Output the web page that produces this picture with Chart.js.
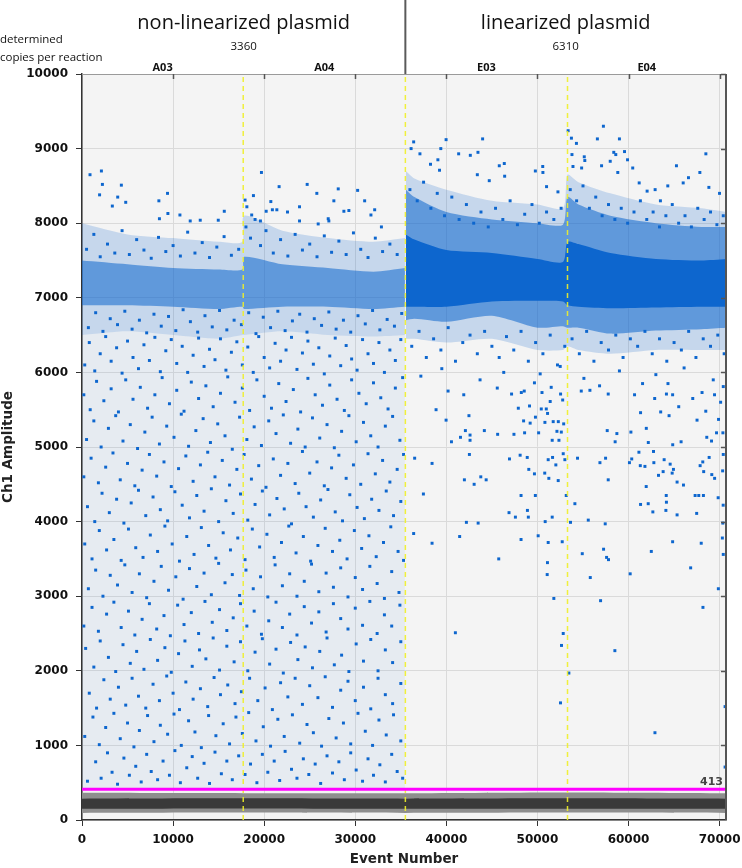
<!DOCTYPE html>
<html>
<head>
<meta charset="utf-8">
<script src="https://cdn.jsdelivr.net/npm/chart.js@4.4.1/dist/chart.umd.min.js"></script>
<style>
  html, body { margin: 0; padding: 0; background: #fff; }
  #wrap { width: 742px; height: 868px; }
</style>
</head>
<body>
<div id="wrap"><canvas id="ddpcr" width="742" height="868"></canvas></div>
<script>
// groups + wells (event ranges)
const groupNames = ["non-linearized plasmid", "linearized plasmid"];
const groupCopies = ["3360", "6310"];
const wellNames = ["A03", "A04", "E03", "E04"];
const wellStarts = [0, 17700, 35500, 53300];
const lastEvent = 70700;
const threshold = 413;
const xTickValues = [0, 10000, 20000, 30000, 40000, 50000, 60000, 70000];
const yTickValues = [0, 1000, 2000, 3000, 4000, 5000, 6000, 7000, 8000, 9000, 10000];

// negative droplet band (grey), envelopes
const negEvents = [0, 17700, 35500, 53300, 70700];
const negOuterLow = [95, 100, 95, 100, 95];
const negOuterHigh = [365, 360, 360, 370, 360];
const negInnerLow = [150, 155, 150, 150, 150];
const negInnerHigh = [285, 290, 285, 290, 285];

// positive cluster of the non-linearized wells
const aEvents = [0, 5000, 10000, 15000, 17600, 17800, 22000, 27000, 32000, 35450];
const aCoreLow = [6900, 6900, 6880, 6850, 6880, 6850, 6880, 6880, 6850, 6880];
const aCoreHigh = [7500, 7450, 7400, 7380, 7380, 7550, 7450, 7400, 7350, 7400];
const aHaloLow = [6500, 6550, 6500, 6450, 6500, 6500, 6550, 6500, 6480, 6500];
const aHaloHigh = [8000, 7850, 7800, 7750, 7750, 8100, 7900, 7800, 7750, 7800];
const aScatterLow = [430, 430, 430, 430, 430, 430, 430, 430, 430, 430];
const aScatterHigh = [6500, 6550, 6500, 6450, 6500, 6500, 6550, 6500, 6480, 6500];

// positive cluster of the linearized wells
const eEvents = [35550, 36500, 40000, 45000, 50000, 52800, 53300, 54500, 58000, 63000, 68000, 70700];
const eCoreLow = [6880, 6880, 6880, 6950, 6960, 6950, 6900, 6880, 6860, 6870, 6880, 6880];
const eCoreHigh = [7850, 7780, 7640, 7600, 7520, 7480, 7750, 7720, 7600, 7520, 7500, 7520];
const eHaloLow = [6700, 6720, 6680, 6760, 6600, 6620, 6600, 6600, 6520, 6560, 6580, 6600];
const eHaloHigh = [8450, 8350, 8150, 8050, 8000, 7980, 8350, 8250, 8100, 8000, 7950, 7950];
const eOuterLow = [6450, 6450, 6400, 6450, 6300, 6300, 6350, 6300, 6250, 6300, 6300, 6300];
const eOuterHigh = [8700, 8600, 8450, 8300, 8250, 8200, 8650, 8550, 8400, 8250, 8200, 8150];

// single droplets [event, amplitude]
const aSparsePts = [
  [600,520],[1500,780],[2100,560],[2800,900],[3300,640],[3900,480],[4600,830],[5200,600],[5900,720],[6500,510],[7100,880],[7600,650],[8300,540],[8900,790],[9600,600],[10200,930],[10800,500],[11500,700],[12100,850],[12700,560],[13400,760],[14000,490],[14600,910],[15300,620],[15900,790],[16500,540],[17200,860],[17900,610],[18500,750],[19200,500],[19800,880],[20400,640],[21100,790],[21700,530],[22300,920],[23000,680],[23600,560],[24300,820],[24900,610],[25600,750],[26200,490],[26900,860],[27500,630],[28200,780],[28800,540],[29500,900],[30100,670],[30800,520],[31400,820],[32000,600],[32700,740],[33300,510],[34000,880],[34600,650],[35200,560],
  [300,1120],[1200,1380],[1900,1010],[2600,1240],[3500,1430],[4200,1090],[5000,1300],[5700,980],[6300,1200],[7200,1400],[7900,1050],[8600,1270],[9400,1150],[10100,1420],[10900,1000],[11700,1330],[12400,1180],[13100,970],[13900,1400],[14700,1130],[15500,1290],[16200,1020],[16900,1380],[17600,1160],[18300,1440],[19100,1060],[19900,1250],[20700,990],[21500,1350],[22200,1120],[23100,1410],[23900,1030],[24700,1280],[25400,1170],[26300,990],[27100,1360],[27900,1100],[28700,1300],[29500,1020],[30300,1430],[31100,1190],[31900,1000],[32600,1340],[33400,1140],[34200,1410],[35000,1060],
  [800,1700],[1600,1500],[2400,1880],[3100,1620],[4000,1780],[4800,1540],[5500,1900],[6200,1660],[7000,1500],[7800,1820],[8500,1600],[9300,1930],[10000,1700],[10700,1480],[11400,1850],[12200,1620],[13000,1760],[13800,1520],[14500,1910],[15200,1680],[16000,1810],[16800,1560],[17500,1720],[18400,1900],[19300,1600],[20100,1770],[20900,1480],[21800,1840],[22600,1650],[23400,1900],[24200,1550],[25000,1800],[25900,1640],[26700,1920],[27500,1510],[28400,1740],[29200,1860],[30000,1600],[30900,1780],[31700,1490],[32500,1900],[33300,1680],[34100,1560],[35000,1830],
  [400,2300],[1300,2050],[2000,2400],[2900,2180],[3700,1990],[4500,2350],[5300,2100],[6000,2260],[6800,2020],[7500,2420],[8300,2140],[9100,2310],[9800,1980],[10600,2230],[11300,2400],[12100,2060],[12900,2280],[13600,2160],[14400,2440],[15100,2010],[15900,2330],[16700,2120],[17400,2390],[18200,2000],[19000,2250],[19800,2430],[20600,2090],[21300,2290],[22100,1970],[22900,2380],[23700,2150],[24500,2320],[25300,2040],[26100,2260],[26900,2440],[27700,2080],[28500,2210],[29300,1990],[30100,2360],[30900,2130],[31700,2420],[32500,2000],[33300,2280],[34100,2110],[35000,2390],
  [200,2600],[1100,2850],[1800,2530],[2700,2760],[3500,2920],[4300,2580],[5100,2800],[5800,2480],[6600,2690],[7400,2900],[8200,2560],[9000,2740],[9700,2470],[10500,2880],[11200,2620],[12000,2780],[12800,2500],[13500,2930],[14300,2650],[15100,2820],[15900,2540],[16600,2710],[17400,2900],[18100,2600],[18900,2800],[19700,2490],[20500,2670],[21300,2920],[22000,2580],[22800,2760],[23600,2480],[24400,2860],[25200,2640],[26000,2790],[26800,2520],[27600,2900],[28400,2700],[29200,2560],[30000,2840],[30800,2610],[31600,2930],[32400,2500],[33200,2750],[34000,2600],[34900,2880],
  [700,3100],[1500,3350],[2300,3000],[3100,3280],[3900,3150],[4700,3420],[5500,3050],[6300,3300],[7100,2980],[7900,3200],[8700,3400],[9500,3080],[10300,3260],[11100,2960],[11800,3370],[12600,3130],[13400,3310],[14200,3020],[15000,3440],[15700,3180],[16500,3290],[17300,3010],[18000,3350],[18800,3100],[19600,3260],[20400,2990],[21200,3420],[22000,3140],[22800,3300],[23600,3000],[24400,3200],[25200,3430],[26000,3060],[26800,3310],[27600,3120],[28400,3380],[29200,2990],[30000,3250],[30800,3090],[31600,3400],[32400,3170],[33200,2970],[34000,3330],[34800,3050],
  [300,3700],[1100,3500],[1900,3880],[2700,3620],[3500,3760],[4300,3480],[5100,3900],[5900,3650],[6700,3520],[7500,3820],[8300,3600],[9100,3940],[9900,3700],[10700,3470],[11500,3800],[12300,3560],[13100,3920],[13900,3680],[14700,3510],[15500,3850],[16300,3620],[17100,3780],[17900,3490],[18700,3900],[19500,3660],[20300,3830],[21100,3520],[21900,3720],[22700,3940],[23500,3580],[24300,3800],[25100,3470],[25900,3680],[26700,3910],[27500,3600],[28300,3750],[29100,3500],[29900,3880],[30700,3640],[31500,3810],[32300,3530],[33100,3720],[33900,3930],[34700,3600],[35300,3480],
  [600,4200],[1400,4000],[2200,4380],[3000,4120],[3800,4300],[4600,3980],[5400,4250],[6200,4420],[7000,4080],[7800,4330],[8600,4160],[9400,4010],[10200,4400],[11000,4220],[11800,4050],[12600,4350],[13400,4140],[14200,4440],[15000,4000],[15800,4280],[16600,4110],[17400,4370],[18200,4020],[19000,4230],[19800,4410],[20600,4090],[21400,4310],[22200,4170],[23000,3970],[23800,4380],[24600,4200],[25400,4060],[26200,4290],[27000,4430],[27800,4130],[28600,4010],[29400,4360],[30200,4190],[31000,4040],[31800,4300],[32600,4150],[33400,4410],[34200,4080],[35000,4270],
  [200,4600],[1000,4850],[1800,4520],[2600,4730],[3400,4920],[4200,4560],[5000,4780],[5800,4480],[6600,4690],[7400,4900],[8200,4610],[9000,4800],[9800,4470],[10600,4710],[11400,4880],[12200,4540],[13000,4760],[13800,4930],[14600,4600],[15400,4820],[16200,4490],[17000,4700],[17800,4900],[18600,4570],[19400,4750],[20200,4460],[21000,4840],[21800,4620],[22600,4780],[23400,4510],[24200,4940],[25000,4650],[25800,4800],[26600,4480],[27400,4720],[28200,4890],[29000,4580],[29800,4760],[30600,4500],[31400,4910],[32200,4640],[33000,4820],[33800,4530],[34600,4700],[35300,4900],
  [500,5100],[1300,5350],[2100,5000],[2900,5250],[3700,5420],[4500,5080],[5300,5300],[6100,4980],[6900,5200],[7700,5400],[8500,5040],[9300,5280],[10100,5130],[10900,5440],[11700,5010],[12500,5220],[13300,5380],[14100,5060],[14900,5310],[15700,5150],[16500,4970],[17300,5400],[18100,5100],[18900,5270],[19700,5020],[20500,5350],[21300,5180],[22100,5430],[22900,5050],[23700,5240],[24500,5000],[25300,5390],[26100,5120],[26900,5300],[27700,4990],[28500,5210],[29300,5420],[30100,5070],[30900,5330],[31700,5150],[32500,5000],[33300,5280],[34100,5410],[34900,5090],
  [200,5700],[900,5500],[1600,5880],[2400,5620],[3200,5780],[4000,5470],[4800,5900],[5600,5640],[6400,5800],[7200,5520],[8000,5700],[8800,5930],[9600,5580],[10400,5760],[11200,5480],[12000,5870],[12800,5650],[13600,5820],[14400,5540],[15200,5720],[16000,5940],[16800,5600],[17600,5790],[18400,5490],[19200,5900],[20000,5680],[20800,5520],[21600,5850],[22400,5610],[23200,5770],[24000,5470],[24800,5920],[25600,5700],[26400,5560],[27200,5830],[28000,5640],[28800,5490],[29600,5900],[30400,5720],[31200,5580],[32000,5860],[32800,5660],[33600,5510],[34400,5790],[35200,5930],
  [300,6100],[800,6400],[1400,6020],[2000,6250],[2600,6480],[3200,6150],[3800,6330],[4400,5990],[5000,6420],[5600,6200],[6200,6050],[6800,6370],[7400,6160],[8000,6470],[8600,6010],[9200,6290],[9800,6440],[10400,6120],[11000,6350],[11600,6000],[12200,6230],[12800,6460],[13400,6080],[14000,6310],[14600,6170],[15200,6450],[15800,6030],[16400,6270],[17000,6410],[17600,6100],[18200,6340],[18800,6000],[19400,6480],[20000,6200],[20600,6060],[21200,6390],[21800,6150],[22400,6300],[23000,6470],[23600,6040],[24200,6260],[24800,6420],[25400,6110],[26000,6330],[26600,5980],[27200,6220],[27800,6460],[28400,6090],[29000,6360],[29600,6180],[30200,6030],[30800,6440],[31400,6250],[32000,6120],[32600,6400],[33200,6000],[33800,6300],[34400,6160],[35000,6440]
];
const aHaloPts = [
  [880,8650],[2130,8700],[2240,8520],[4320,8510],[3920,8350],[4800,8280],[3330,8230],[1930,8380],[9390,8400],[8440,8300],[8500,8060],[9430,8130],[10750,8110],[11880,8030],[12980,8040],[14960,8040],[15620,8160],
  [19700,8680],[18820,8370],[21640,8490],[20730,8290],[21390,8180],[22560,8150],[23880,8220],[24720,8520],[25780,8400],[28130,8460],[27650,8300],[27030,8060],[28750,8160],[29300,8170],[30260,8440],[31030,8300],[32130,8180],[31720,8110],[32870,7950],[17900,8310],[18100,8220],[18630,8110],[19590,8030],[20220,8160],[20900,8180],[23880,8030],[25930,7990],[27100,8030],
  [500,7650],[1300,7850],[2000,7550],[2800,7720],[3600,7600],[4400,7900],[5200,7580],[6000,7780],[6800,7640],[7600,7530],[8400,7810],[9200,7620],[10000,7700],[10800,7560],[11600,7880],[12400,7600],[13200,7740],[14000,7540],[14800,7680],[15600,7820],[16400,7570],[17200,7650],[18000,7950],[18500,7800],[19000,8050],[19600,7700],[20200,7900],[21000,7600],[21800,7780],[22600,7560],[23400,7850],[24200,7640],[25000,7720],[25800,7550],[26600,7830],[27400,7610],[28200,7760],[29000,7580],[29800,7870],[30600,7650],[31400,7540],[32200,7800],[33000,7620],[33800,7720],[34600,7580],
  [700,6600],[1500,6800],[2300,6550],[3100,6720],[3900,6640],[4700,6820],[5500,6580],[6300,6700],[7100,6530],[7900,6780],[8700,6620],[9500,6750],[10300,6560],[11100,6840],[11900,6680],[12700,6540],[13500,6760],[14300,6610],[15100,6830],[15900,6570],[16700,6700],[17500,6640],[18300,6800],[19100,6520],[19900,6740],[20700,6600],[21500,6820],[22300,6560],[23100,6690],[23900,6780],[24700,6540],[25500,6720],[26300,6630],[27100,6810],[27900,6580],[28700,6700],[29500,6540],[30300,6760],[31100,6650],[31900,6830],[32700,6570],[33500,6710],[34300,6620],[35100,6790]
];
const eSparsePts = [
  [52530,1570],[52830,2500],[52640,2340],[53450,1970],[40990,2510],[58500,2270],[62900,1170],[68170,2850],[69860,3100],[70600,1520],[70600,710],
  [51800,2970],[56930,2940],[60180,3300],[55800,3250],[51070,3290],[51100,3450],[45750,3500],[66820,3380],[38430,3710],[41460,3800],[48200,3760],[51180,3720],[52720,3730],[54920,3570],[57260,3630],[57590,3520],[57800,3490],[62500,3600],[64840,3730],[67980,3710],[70400,3560],[36410,3840],[42200,3990],[43490,3980],[50080,3810],[50850,4000],[53630,3990],[55580,4020],[57440,3970],[51620,4060],[67480,4110],[70300,3780],[70350,3980],
  [36520,4850],[38430,4780],[37480,4370],[41980,4560],[43050,4500],[43780,4600],[44370,4560],[42530,4900],[46930,4840],[48100,4890],[48880,4860],[49050,4700],[49670,4640],[50800,4650],[48200,4350],[49770,4350],[51180,4830],[51660,4860],[52020,4760],[51250,4580],[52280,4550],[52830,4910],[53010,4830],[53160,4350],[46880,4120],[47580,4060],[48900,4150],[49000,4060],[54400,4850],[56860,4790],[57480,4850],[57770,4560],[54110,4240],[60100,4790],[60350,4840],[61140,4930],[61290,4750],[61800,4740],[61940,4470],[61320,4230],[62160,4240],[62670,4130],[62740,4940],[62780,4790],[63290,4620],[63800,4670],[63910,4830],[64570,4770],[64790,4650],[64930,4700],[64140,4350],[64160,4260],[64100,4150],[65330,4530],[65330,4090],[66030,4490],[67860,4750],[68150,4800],[68250,4670],[67310,4350],[67710,4350],[68220,4350],[68850,4860],[69140,4630],[69840,4320],[70390,4220],[69450,4580],[70330,4680],[70400,4900],
  [40190,5750],[41910,5700],[38870,5500],[39970,5360],[40560,5070],[41550,5130],[42090,5220],[42600,5160],[42600,5090],[42480,5420],[44170,5220],[45590,5790],[45630,5170],[47160,5710],[47420,5170],[47900,5520],[48230,5730],[48480,5350],[48590,5190],[48550,5750],[49200,5320],[49130,5550],[49670,5860],[49780,5400],[50130,5190],[50420,5510],[50500,5730],[50820,5330],[50970,5510],[51110,5450],[51400,5610],[51510,5800],[51620,5090],[51730,5340],[52140,5210],[52290,5340],[52360,5090],[52540,5710],[52620,5200],[52770,5630],[52880,5310],[54810,5750],[55760,5760],[56820,5820],[57770,5710],[57660,5220],[58720,5180],[58530,5070],[60260,5200],[60660,5700],[61320,5460],[61540,5850],[61950,5250],[62170,5060],[62870,5650],[63530,5470],[64450,5420],[64160,5710],[64850,5030],[65510,5540],[65770,5070],[67050,5650],[67520,5360],[68070,5730],[68480,5480],[68590,5130],[69110,5080],[69440,5700],[69660,5190],[69880,5370],[70110,5600],[70400,5810],[70360,5190],[64330,5850],[64840,5700],
  [37200,5950],[39500,6050],[43700,5900],[46300,6000],[50300,5980],[52500,6080],[55100,5920],[59000,6020],[63000,5970],[66100,6060],[69300,5900]
];
const eHaloPts = [
  [36410,9090],[36130,9000],[37100,8930],[39970,9120],[39390,9000],[41350,8930],[42630,8910],[43470,8950],[43980,9130],[38260,8790],[39250,8710],[39070,8850],[43400,8650],[44710,8570],[45810,8770],[46360,8800],[46400,8630],[49770,8700],[50580,8760],[50600,8680],[51000,8490],[52250,8420],
  [53370,9240],[53730,9140],[54280,9070],[56580,9130],[57240,9300],[59000,9130],[58380,8950],[58600,8920],[59560,8960],[59890,8850],[57990,8830],[57040,8770],[55140,8890],[55200,8840],[54850,8740],[53790,8920],[53900,8760],[58820,8680],[60460,8740],[61170,8540],[62920,8450],[65260,8770],[64310,8500],[66000,8540],[66580,8610],[67830,8680],[68490,8930],[68820,8480],[69990,8400],[62040,8430],[63500,8300],
  [36000,8450],[36800,8300],[37500,8550],[38300,8200],[39000,8400],[39800,8100],[40600,8350],[41400,8050],[42200,8250],[43000,8000],[43800,8150],[44600,7950],[45400,8200],[46200,8050],[47000,8300],[47800,7980],[48600,8120],[49400,8250],[50200,8000],[51000,8150],[51800,8050],[52600,8200],[53600,8450],[54300,8300],[55000,8500],[55700,8200],[56400,8350],[57100,8100],[57800,8250],[58500,8050],[59200,8200],[59900,8000],[60600,8150],[61300,8300],[62000,8050],[62700,8150],[63400,7950],[64100,8100],[64800,8250],[65500,8000],[66200,8100],[66900,7950],[67600,8200],[68300,8050],[69000,8150],[69700,7980],[70400,8100],
  [36200,6350],[37000,6550],[37800,6200],[38600,6450],[39400,6300],[40200,6600],[41000,6150],[41800,6400],[42600,6500],[43400,6250],[44200,6550],[45000,6350],[45800,6200],[46600,6480],[47400,6300],[48200,6550],[49000,6150],[49800,6400],[50600,6250],[51400,6500],[52200,6100],[53000,6350],[53800,6450],[54600,6250],[55400,6550],[56200,6150],[57000,6400],[57800,6300],[58600,6500],[59400,6200],[60200,6450],[61000,6350],[61800,6550],[62600,6250],[63400,6450],[64200,6150],[65000,6400],[65800,6300],[66600,6550],[67400,6200],[68200,6450],[69000,6350],[69800,6500],[70500,6250]
];

const BLUE = "#0d66ce";
const xy = (events, vals) => events.map((e, i) => ({ x: e, y: vals[i] }));
const pts = list => list.map(p => ({ x: p[0], y: p[1] }));

// envelope line; give fill:"-1" to fill down to the previous dataset
function envelope(label, events, vals, order, fillColor) {
  return {
    type: "line", label, order,
    data: xy(events, vals),
    borderWidth: 0, pointRadius: 0, tension: 0.25,
    fill: fillColor ? "-1" : false,
    backgroundColor: fillColor || "transparent"
  };
}

const datasets = [
  {
    type: "line", label: "threshold", order: 0,
    data: [{ x: 0, y: threshold }, { x: lastEvent, y: threshold }],
    borderColor: "#ff00ff", borderWidth: 3, pointRadius: 0
  },
  ...wellStarts.slice(1).map(w => ({
    type: "line", label: "well " + w, order: 0,
    data: [{ x: w, y: 0 }, { x: w, y: 10000 }],
    borderColor: "rgba(240,240,40,0.9)", borderWidth: 1.5, borderDash: [5, 4], pointRadius: 0
  })),
  {
    label: "droplets", order: 1,
    data: pts(aSparsePts.concat(aHaloPts, eSparsePts, eHaloPts)),
    backgroundColor: BLUE, pointStyle: "rect", pointRadius: 2.1, borderWidth: 0, pointHoverRadius: 2.1
  },
  envelope("eCoreLow", eEvents, eCoreLow, 2),
  envelope("eCoreHigh", eEvents, eCoreHigh, 2, BLUE),
  envelope("eHaloLow", eEvents, eHaloLow, 3),
  envelope("eHaloHigh", eEvents, eHaloHigh, 3, "rgba(13,102,206,0.55)"),
  envelope("eOuterLow", eEvents, eOuterLow, 4),
  envelope("eOuterHigh", eEvents, eOuterHigh, 4, "rgba(13,102,206,0.2)"),
  envelope("aCoreLow", aEvents, aCoreLow, 2),
  envelope("aCoreHigh", aEvents, aCoreHigh, 2, "rgba(13,102,206,0.55)"),
  envelope("aHaloLow", aEvents, aHaloLow, 3),
  envelope("aHaloHigh", aEvents, aHaloHigh, 3, "rgba(13,102,206,0.2)"),
  envelope("aScatterLow", aEvents, aScatterLow, 4),
  envelope("aScatterHigh", aEvents, aScatterHigh, 4, "rgba(13,102,206,0.06)"),
  envelope("negInnerLow", negEvents, negInnerLow, 4),
  envelope("negInnerHigh", negEvents, negInnerHigh, 4, "#3a3a3a"),
  envelope("negOuterLow", negEvents, negOuterLow, 5),
  envelope("negOuterHigh", negEvents, negOuterHigh, 5, "#8e8e8e")
];

// plot background + frame, header texts, inner ticks on top/right
const frame = {
  id: "frame",
  beforeDraw(chart) {
    const { ctx, chartArea: a } = chart;
    ctx.save();
    ctx.fillStyle = "#f4f4f4";
    ctx.fillRect(a.left, a.top, a.right - a.left, a.bottom - a.top);
    ctx.restore();
  },
  afterDraw(chart) {
    const { ctx, chartArea: a, scales } = chart;
    const x = scales.x, y = scales.y;
    ctx.save();
    // top + right frame
    ctx.strokeStyle = "#9a9a9a";
    ctx.lineWidth = 1;
    ctx.beginPath(); ctx.moveTo(a.left, a.top + 0.5); ctx.lineTo(a.right, a.top + 0.5); ctx.stroke();
    ctx.strokeStyle = "#555";
    ctx.lineWidth = 2;
    ctx.beginPath(); ctx.moveTo(a.right, a.top); ctx.lineTo(a.right, a.bottom); ctx.stroke();
    ctx.lineWidth = 1.5;
    xTickValues.slice(1).forEach(v => {
      const px = Math.round(x.getPixelForValue(v)) + 0.5;
      ctx.beginPath(); ctx.moveTo(px, a.top); ctx.lineTo(px, a.top + 5); ctx.stroke();
    });
    yTickValues.slice(1).forEach(v => {
      const py = Math.round(y.getPixelForValue(v)) + 0.5;
      ctx.beginPath(); ctx.moveTo(a.right, py); ctx.lineTo(a.right - 5, py); ctx.stroke();
    });

    // separator between the two groups
    const sep = x.getPixelForValue(wellStarts[2]);
    ctx.strokeStyle = "#5a5a5a";
    ctx.lineWidth = 2;
    ctx.beginPath(); ctx.moveTo(sep, 0); ctx.lineTo(sep, a.top); ctx.stroke();

    ctx.fillStyle = "#111";
    ctx.textAlign = "center";
    ctx.textBaseline = "alphabetic";
    const groupMid = [
      (wellStarts[0] + wellStarts[2]) / 2,
      (wellStarts[2] + lastEvent) / 2
    ];
    groupNames.forEach((g, i) => {
      const cx = x.getPixelForValue(groupMid[i]);
      ctx.font = "20px 'Open Sans'";
      ctx.fillText(g, cx, 29);
      ctx.font = "11.5px 'Open Sans'";
      ctx.fillText(groupCopies[i], cx, 50);
    });
    ctx.font = "bold 11px 'Open Sans'";
    wellNames.forEach((w, i) => {
      const end = i < wellStarts.length - 1 ? wellStarts[i + 1] : lastEvent;
      ctx.fillText(w, x.getPixelForValue((wellStarts[i] + end) / 2), 71);
    });
    ctx.textAlign = "left";
    ctx.font = "11.5px 'Open Sans'";
    ctx.fillText("determined", 0, 43);
    ctx.fillText("copies per reaction", 0, 61);

    // threshold value
    ctx.textAlign = "right";
    ctx.font = "bold 11px 'DejaVu Sans'";
    ctx.fillStyle = "#444";
    ctx.fillText(String(threshold), a.right - 3, y.getPixelForValue(threshold) - 4);
    ctx.restore();
  }
};

const tickFont = { family: "'DejaVu Sans'", size: 12, weight: "bold" };
const titleFont = { family: "'DejaVu Sans'", size: 13.5, weight: "bold" };

new Chart(document.getElementById("ddpcr"), {
  type: "scatter",
  data: { datasets },
  options: {
    responsive: false,
    animation: false,
    events: [],
    layout: { padding: { top: 74, right: 16, left: 0, bottom: 0 } },
    plugins: { legend: { display: false }, tooltip: { enabled: false } },
    scales: {
      x: {
        type: "linear", min: 0, max: lastEvent,
        afterBuildTicks: s => { s.ticks = xTickValues.map(v => ({ value: v })); },
        // fixed height; let the last label hang into the right margin
        afterFit: s => { s.height = 48; s.paddingRight = 0; s.paddingLeft = 0; },
        ticks: { font: tickFont, color: "#111", padding: 7, maxRotation: 0, callback: v => String(v) },
        grid: { color: "#dadada", tickColor: "#333", tickLength: 6 },
        border: { color: "#333", width: 1.5 },
        title: { display: true, text: "Event Number", font: titleFont, color: "#222", padding: { top: 0, bottom: 0 } }
      },
      y: {
        type: "linear", min: 0, max: 10000,
        afterBuildTicks: s => { s.ticks = yTickValues.map(v => ({ value: v })); },
        afterFit: s => { s.width = 82; s.paddingTop = 0; s.paddingBottom = 0; },
        ticks: { font: tickFont, color: "#111", padding: 8, callback: v => String(v) },
        grid: { color: "#dadada", tickColor: "#333", tickLength: 6 },
        border: { color: "#333", width: 1.5 },
        title: { display: true, text: "Ch1 Amplitude", font: titleFont, color: "#222", padding: { top: 0, bottom: 0 } }
      }
    }
  },
  plugins: [frame]
});
</script>
</body>
</html>
